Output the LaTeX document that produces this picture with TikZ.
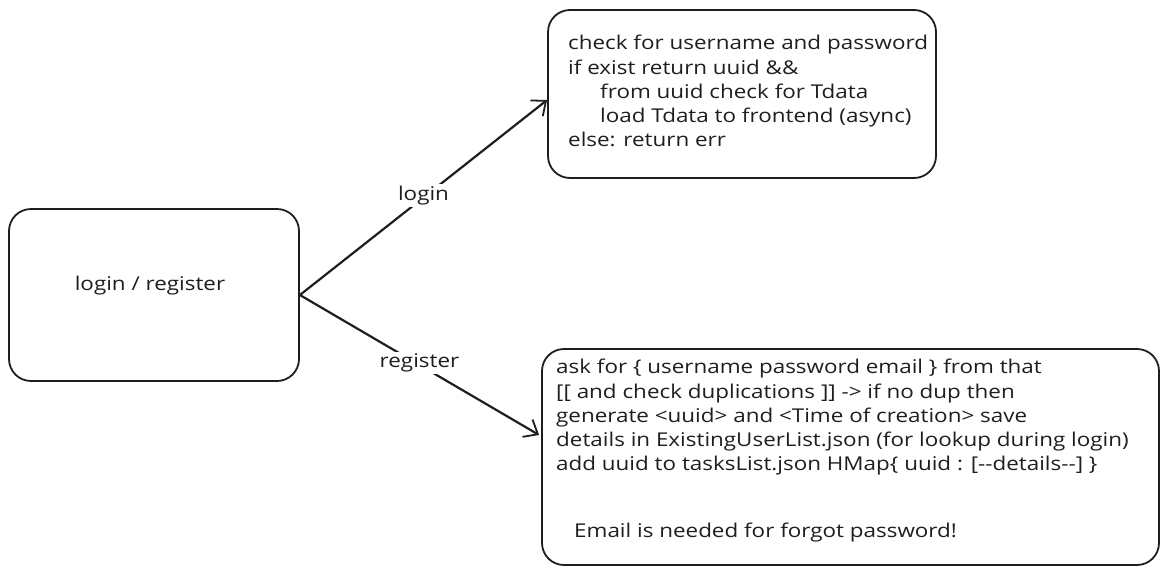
\documentclass[tikz,border=0pt]{standalone}
\usepackage{fontspec}
\setmainfont{Open Sans}[FakeStretch=1.18]
\usetikzlibrary{arrows.meta}
\definecolor{ink}{HTML}{1E1E1E}
\tikzset{
  box/.style={draw=ink, line width=1.8pt, rounded corners=22pt, inner sep=0pt},
  txt/.style={text=ink, font=\fontsize{19}{24.3}\selectfont, align=left, inner sep=0pt, anchor=north west},
  conn/.style={draw=ink, line width=2.2pt, -{Straight Barb[length=12pt,width=20pt,line width=1.8pt]}},
  lbl/.style={fill=white, text=ink, font=\fontsize{19}{22}\selectfont, inner sep=2pt}
}
\begin{document}
\begin{tikzpicture}[x=1pt,y=-1pt]
\useasboundingbox (0,0) rectangle (1167,576);
\node[box, minimum width=290pt, minimum height=172pt] (lr) at (154,295) {};
\node[text=ink, font=\fontsize{19}{22}\selectfont] (lrt) at (150,286) {login / register};
\node[box, minimum width=388pt, minimum height=168pt] (tr) at (742,94) {};
\node[box, minimum width=617pt, minimum height=216pt] (br) at (850.5,457) {};
\node[txt] (trt) at (568,35) {check for username and password\\
if exist return uuid \&\&\\
\hspace*{32pt}from uuid check for Tdata\\
\hspace*{32pt}load Tdata to frontend (async)\\
else: return err};
\node[txt] (brt) at (556,359) {ask for \{ username password email \} from that\\
{[}[ and check duplications ]] {-}> if no dup then\\
generate <uuid> and <Time of creation> save\\
details in ExistingUserList.json (for lookup during login)\\
add uuid to tasksList.json HMap\{ uuid : [{-}{-}details{-}{-}] \}};
\node[txt] (brn) at (574,523) {Email is needed for forgot password!};
\coordinate (tend) at ([yshift=-6pt]tr.west);
\coordinate (bend) at ([yshift=22pt,xshift=-2pt]br.west);
\draw[conn] (lr.east) -- (tend) node[lbl, pos=0.5, yshift=2pt] (l1) {login};
\draw[conn] (lr.east) -- (bend) node[lbl, pos=0.5, yshift=2pt] (l2) {register};
\end{tikzpicture}
\end{document}
